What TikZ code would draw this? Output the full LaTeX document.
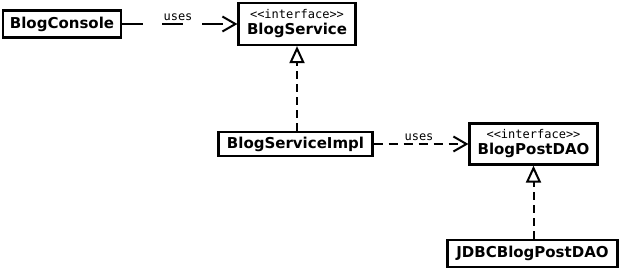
\documentclass[tikz,border=0pt]{standalone}
\usepackage{fontspec}
\setmainfont{DejaVu Sans}
\newfontfamily\monof{DejaVu Sans Mono}
\newcommand\stereotype[1]{{\monof\mdseries\fontsize{12}{14}\selectfont <\kern0pt<#1>\kern0pt>}}
\usetikzlibrary{arrows.meta}
\begin{document}
\begin{tikzpicture}[x=1pt,y=-1pt,
  box/.style={draw=black,line width=2.2pt,fill=white,inner sep=0pt,align=center,
    font=\fontsize{15}{18}\selectfont\bfseries},
  uselabel/.style={font=\monof\fontsize{12}{14}\selectfont,inner sep=0pt},
  uses/.style={line width=2pt,-{Straight Barb[length=13pt,width=15pt,line width=2pt]}},
  realizes/.style={line width=2pt,dash pattern=on 8pt off 5pt,
    -{Triangle[open,length=17pt,width=15pt,line width=2pt]}}]
\useasboundingbox (0,0) rectangle (620,269);
% classes and interfaces
\node[box,minimum width=118pt,minimum height=27pt] (console) at (62,24) {BlogConsole};
\node[box,minimum width=117pt,minimum height=42pt] (service) at (297,24)
  {\stereotype{interface}\\[-2pt]BlogService};
\node[box,minimum width=154pt,minimum height=24pt] (impl) at (295.5,144) {BlogServiceImpl};
\node[box,minimum width=128pt,minimum height=41pt] (dao) at (533.5,144)
  {\stereotype{interface}\\[-2pt]BlogPostDAO};
\node[box,minimum width=170pt,minimum height=27pt] (jdbc) at (532.5,253.5) {JDBCBlogPostDAO};
% dependencies
\draw[uses,dash pattern=on 21pt off 19pt] (console.east) -- (service.west);
\node[uselabel] (uses1) at (178,17) {uses};
\draw[uses,dash pattern=on 9pt off 6pt] (impl.east) -- (dao.west);
\node[uselabel] (uses2) at (419,137) {uses};
% realizations
\draw[realizes] (impl.north -| service.south) -- (service.south);
\draw[realizes] (jdbc.north -| dao.south) -- (dao.south);
\end{tikzpicture}
\end{document}
